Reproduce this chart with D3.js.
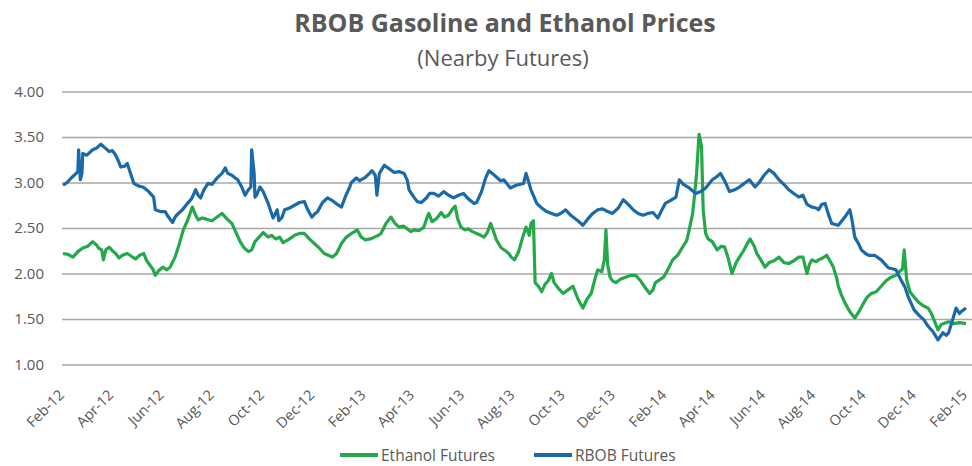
<!DOCTYPE html>
<html>
<head>
<meta charset="utf-8">
<script src="https://cdn.jsdelivr.net/npm/d3@7"></script>
<style>
  body { margin: 0; background: #fff; }
  text { font-family: "Open Sans", sans-serif; fill: #595959; }
</style>
</head>
<body>
<svg id="chart" width="972" height="466"></svg>
<script>
// series (nearby futures, $/gal)
const rbobDates = ["2012-02-01","2012-02-06","2012-02-11","2012-02-17","2012-02-19","2012-02-20","2012-02-22","2012-02-24","2012-02-25","2012-03-01","2012-03-08","2012-03-13","2012-03-18","2012-03-23","2012-03-28","2012-04-01","2012-04-05","2012-04-09","2012-04-11","2012-04-16","2012-04-19","2012-04-23","2012-04-27","2012-05-03","2012-05-08","2012-05-15","2012-05-21","2012-05-23","2012-05-29","2012-06-04","2012-06-08","2012-06-13","2012-06-16","2012-06-20","2012-06-25","2012-07-01","2012-07-06","2012-07-11","2012-07-14","2012-07-17","2012-07-21","2012-07-26","2012-07-31","2012-08-06","2012-08-12","2012-08-16","2012-08-19","2012-08-24","2012-08-28","2012-08-31","2012-09-05","2012-09-09","2012-09-13","2012-09-16","2012-09-17","2012-09-20","2012-09-21","2012-09-23","2012-09-27","2012-10-01","2012-10-07","2012-10-13","2012-10-18","2012-10-20","2012-10-24","2012-10-27","2012-11-02","2012-11-08","2012-11-14","2012-11-20","2012-11-24","2012-11-29","2012-12-02","2012-12-06","2012-12-12","2012-12-18","2012-12-24","2012-12-30","2013-01-04","2013-01-09","2013-01-14","2013-01-16","2013-01-22","2013-01-26","2013-02-01","2013-02-07","2013-02-10","2013-02-14","2013-02-16","2013-02-19","2013-02-25","2013-03-03","2013-03-09","2013-03-15","2013-03-21","2013-03-25","2013-03-27","2013-04-01","2013-04-06","2013-04-11","2013-04-17","2013-04-21","2013-04-26","2013-05-02","2013-05-08","2013-05-14","2013-05-20","2013-05-26","2013-06-01","2013-06-07","2013-06-14","2013-06-17","2013-06-23","2013-06-28","2013-07-02","2013-07-06","2013-07-11","2013-07-16","2013-07-20","2013-07-28","2013-08-04","2013-08-13","2013-08-16","2013-08-22","2013-08-29","2013-09-04","2013-09-10","2013-09-16","2013-09-22","2013-09-27","2013-10-03","2013-10-07","2013-10-12","2013-10-18","2013-10-24","2013-10-30","2013-11-05","2013-11-11","2013-11-17","2013-11-23","2013-11-29","2013-12-06","2013-12-12","2013-12-18","2013-12-24","2013-12-30","2014-01-05","2014-01-11","2014-01-17","2014-01-23","2014-01-28","2014-02-01","2014-02-07","2014-02-14","2014-02-18","2014-02-23","2014-03-02","2014-03-10","2014-03-16","2014-03-22","2014-03-30","2014-04-04","2014-04-09","2014-04-14","2014-04-20","2014-04-26","2014-05-02","2014-05-08","2014-05-14","2014-05-21","2014-05-26","2014-06-01","2014-06-07","2014-06-13","2014-06-19","2014-06-25","2014-07-01","2014-07-07","2014-07-13","2014-07-18","2014-07-23","2014-07-29","2014-08-03","2014-08-06","2014-08-10","2014-08-14","2014-08-18","2014-08-22","2014-08-30","2014-09-07","2014-09-10","2014-09-13","2014-09-15","2014-09-19","2014-09-24","2014-09-27","2014-10-02","2014-10-06","2014-10-13","2014-10-21","2014-10-26","2014-10-30","2014-11-05","2014-11-08","2014-11-14","2014-11-19","2014-11-23","2014-11-30","2014-12-06","2014-12-12","2014-12-17","2014-12-23","2014-12-29","2015-01-04","2015-01-08","2015-01-11","2015-01-16","2015-01-20","2015-01-24","2015-01-26","2015-02-01"]
const rbobValues = [2.97,3.00,3.05,3.10,3.12,3.36,3.03,3.10,3.32,3.30,3.36,3.38,3.42,3.38,3.34,3.35,3.30,3.22,3.17,3.18,3.21,3.10,2.99,2.96,2.95,2.90,2.84,2.70,2.68,2.68,2.62,2.56,2.62,2.66,2.70,2.77,2.82,2.92,2.86,2.83,2.92,2.99,2.98,3.05,3.10,3.16,3.10,3.08,3.05,3.03,2.95,2.86,2.92,2.95,3.36,3.10,2.84,2.86,2.95,2.90,2.77,2.61,2.70,2.58,2.62,2.70,2.72,2.75,2.78,2.79,2.70,2.62,2.65,2.68,2.78,2.83,2.80,2.76,2.73,2.85,2.95,3.00,3.05,3.02,3.05,3.10,3.13,3.08,2.86,3.10,3.19,3.15,3.11,3.12,3.10,3.02,2.92,2.85,2.79,2.78,2.83,2.88,2.88,2.85,2.90,2.86,2.83,2.86,2.88,2.82,2.77,2.78,2.90,3.05,3.13,3.10,3.06,3.02,3.03,2.94,2.97,2.99,3.10,2.92,2.77,2.72,2.68,2.66,2.64,2.66,2.70,2.66,2.62,2.58,2.53,2.60,2.66,2.70,2.71,2.68,2.66,2.72,2.81,2.76,2.70,2.66,2.64,2.66,2.67,2.61,2.70,2.77,2.80,2.84,3.03,2.98,2.94,2.88,2.90,2.94,3.03,3.06,3.10,3.02,2.90,2.92,2.95,2.99,3.03,2.95,3.00,3.08,3.14,3.10,3.03,2.98,2.92,2.88,2.84,2.86,2.76,2.73,2.72,2.70,2.76,2.77,2.65,2.55,2.53,2.62,2.66,2.70,2.62,2.40,2.32,2.26,2.22,2.20,2.20,2.15,2.10,2.06,2.05,2.04,1.93,1.85,1.74,1.60,1.54,1.49,1.42,1.36,1.27,1.35,1.32,1.35,1.50,1.62,1.56,1.58,1.62]

const ethDates = ["2012-02-01","2012-02-07","2012-02-13","2012-02-19","2012-02-25","2012-03-02","2012-03-08","2012-03-13","2012-03-15","2012-03-19","2012-03-21","2012-03-24","2012-03-28","2012-04-01","2012-04-05","2012-04-09","2012-04-13","2012-04-19","2012-04-24","2012-04-29","2012-05-04","2012-05-09","2012-05-12","2012-05-15","2012-05-20","2012-05-23","2012-05-27","2012-06-01","2012-06-06","2012-06-10","2012-06-16","2012-06-21","2012-06-26","2012-07-01","2012-07-05","2012-07-07","2012-07-11","2012-07-14","2012-07-19","2012-07-23","2012-07-26","2012-07-31","2012-08-06","2012-08-12","2012-08-18","2012-08-24","2012-08-29","2012-09-03","2012-09-08","2012-09-13","2012-09-17","2012-09-21","2012-09-26","2012-10-01","2012-10-07","2012-10-11","2012-10-16","2012-10-21","2012-10-25","2012-10-31","2012-11-05","2012-11-08","2012-11-14","2012-11-20","2012-11-26","2012-12-02","2012-12-08","2012-12-14","2012-12-19","2012-12-24","2012-12-29","2013-01-04","2013-01-10","2013-01-16","2013-01-20","2013-01-23","2013-01-28","2013-02-02","2013-02-08","2013-02-13","2013-02-18","2013-02-21","2013-02-27","2013-03-05","2013-03-10","2013-03-15","2013-03-20","2013-03-25","2013-03-29","2013-04-02","2013-04-08","2013-04-14","2013-04-18","2013-04-20","2013-04-24","2013-04-29","2013-05-05","2013-05-09","2013-05-14","2013-05-18","2013-05-22","2013-05-25","2013-05-29","2013-06-03","2013-06-07","2013-06-12","2013-06-17","2013-06-22","2013-06-26","2013-06-30","2013-07-04","2013-07-08","2013-07-11","2013-07-17","2013-07-22","2013-07-26","2013-07-29","2013-08-02","2013-08-07","2013-08-12","2013-08-16","2013-08-20","2013-08-22","2013-08-25","2013-08-27","2013-08-31","2013-09-04","2013-09-08","2013-09-12","2013-09-16","2013-09-19","2013-09-24","2013-09-30","2013-10-06","2013-10-12","2013-10-18","2013-10-24","2013-10-29","2013-11-03","2013-11-08","2013-11-11","2013-11-16","2013-11-19","2013-11-21","2013-11-23","2013-11-26","2013-11-29","2013-12-03","2013-12-09","2013-12-15","2013-12-21","2013-12-27","2014-01-02","2014-01-08","2014-01-13","2014-01-17","2014-01-20","2014-01-25","2014-01-30","2014-02-04","2014-02-10","2014-02-16","2014-02-22","2014-02-27","2014-03-02","2014-03-06","2014-03-08","2014-03-11","2014-03-14","2014-03-17","2014-03-19","2014-03-22","2014-03-25","2014-03-30","2014-04-05","2014-04-10","2014-04-14","2014-04-18","2014-04-23","2014-04-28","2014-05-02","2014-05-07","2014-05-11","2014-05-15","2014-05-20","2014-05-23","2014-05-28","2014-06-02","2014-06-07","2014-06-13","2014-06-19","2014-06-25","2014-07-01","2014-07-07","2014-07-13","2014-07-18","2014-07-23","2014-07-26","2014-07-29","2014-08-03","2014-08-06","2014-08-11","2014-08-16","2014-08-21","2014-08-24","2014-08-28","2014-08-30","2014-09-03","2014-09-07","2014-09-13","2014-09-19","2014-09-24","2014-09-30","2014-10-04","2014-10-09","2014-10-15","2014-10-21","2014-10-27","2014-11-02","2014-11-08","2014-11-12","2014-11-16","2014-11-18","2014-11-21","2014-11-25","2014-11-30","2014-12-06","2014-12-12","2014-12-17","2014-12-21","2014-12-26","2014-12-29","2015-01-02","2015-01-05","2015-01-11","2015-01-17","2015-01-24","2015-02-01"]
const ethValues = [2.22,2.21,2.18,2.24,2.28,2.30,2.35,2.31,2.28,2.26,2.15,2.26,2.29,2.25,2.22,2.17,2.20,2.22,2.19,2.16,2.20,2.22,2.15,2.11,2.05,1.98,2.03,2.07,2.04,2.07,2.18,2.32,2.48,2.58,2.68,2.73,2.64,2.59,2.61,2.60,2.59,2.58,2.62,2.66,2.60,2.55,2.45,2.35,2.28,2.24,2.26,2.35,2.40,2.45,2.40,2.42,2.38,2.40,2.34,2.37,2.40,2.42,2.44,2.44,2.38,2.33,2.28,2.22,2.20,2.18,2.22,2.33,2.40,2.44,2.46,2.48,2.40,2.37,2.38,2.40,2.42,2.44,2.55,2.62,2.55,2.51,2.52,2.49,2.46,2.48,2.47,2.51,2.62,2.66,2.57,2.60,2.67,2.62,2.64,2.70,2.74,2.60,2.51,2.48,2.49,2.46,2.44,2.42,2.40,2.45,2.55,2.45,2.37,2.28,2.25,2.22,2.18,2.15,2.24,2.40,2.51,2.42,2.55,2.58,1.90,1.86,1.80,1.88,1.92,2.00,1.90,1.84,1.78,1.82,1.86,1.72,1.62,1.72,1.78,1.95,2.04,2.02,2.15,2.48,2.10,1.96,1.92,1.90,1.94,1.96,1.98,1.98,1.92,1.84,1.78,1.82,1.90,1.93,1.96,2.04,2.15,2.20,2.29,2.36,2.48,2.65,2.81,3.10,3.53,3.40,2.70,2.44,2.38,2.35,2.26,2.30,2.29,2.18,2.00,2.12,2.18,2.25,2.32,2.38,2.30,2.22,2.15,2.07,2.12,2.14,2.18,2.12,2.11,2.14,2.18,2.18,2.00,2.10,2.15,2.13,2.15,2.17,2.20,2.12,2.07,1.95,1.86,1.76,1.68,1.58,1.51,1.58,1.68,1.74,1.78,1.80,1.86,1.92,1.96,1.98,2.02,2.05,2.26,1.93,1.80,1.74,1.68,1.64,1.62,1.56,1.45,1.38,1.44,1.45,1.47,1.45,1.46,1.45]

const yTicks = [1.00, 1.50, 2.00, 2.50, 3.00, 3.50, 4.00]
const seriesNames = ["Ethanol Futures", "RBOB Futures"]
const seriesColors = ["#23a84a", "#1a69a8"]

const parse = d3.timeParse("%Y-%m-%d")
const eth = ethDates.map((d, i) => ({ date: parse(d), value: ethValues[i] }))
const rbob = rbobDates.map((d, i) => ({ date: parse(d), value: rbobValues[i] }))

const svg = d3.select("#chart")

const x = d3.scaleTime()
    .domain([parse("2012-02-01"), parse("2015-02-01")])
    .range([63, 966])
const y = d3.scaleLinear()
    .domain([1, 4])
    .range([364.5, 91.5])

// title
svg.append("text")
    .attr("x", 505).attr("y", 32)
    .attr("text-anchor", "middle")
    .style("font-size", "25px").style("font-weight", "bold")
    .text("RBOB Gasoline and Ethanol Prices")
svg.append("text")
    .attr("x", 503).attr("y", 66)
    .attr("text-anchor", "middle")
    .style("font-size", "22px")
    .text("(Nearby Futures)")

// gridlines + y labels
const yAxis = d3.axisLeft(y).tickValues(yTicks).tickFormat(d3.format(".2f"))
    .tickSize(-910).tickPadding(18)
svg.append("g")
    .attr("transform", "translate(62,0)")
    .call(yAxis)
    .call(g => g.select(".domain").remove())
    .call(g => g.selectAll("line").attr("stroke", "#a8a8a8").attr("stroke-width", 1.3))
    .call(g => g.selectAll("text").style("font-size", "15px").attr("fill", "#595959"))

// x labels, every 2 months starting Feb-12
const xTicks = d3.timeMonth.range(parse("2012-02-01"), parse("2015-02-02"), 2)
const fmt = d3.timeFormat("%b-%y")
svg.append("g")
    .selectAll("text")
    .data(xTicks)
    .join("text")
    .attr("text-anchor", "end")
    .attr("transform", d => `translate(${x(d) + 2},${396}) rotate(-45)`)
    .style("font-size", "14.5px")
    .text(d => fmt(d))

// lines
const line = d3.line().x(d => x(d.date)).y(d => y(d.value))
svg.append("path")
    .datum(eth)
    .attr("fill", "none")
    .attr("stroke", seriesColors[0])
    .attr("stroke-width", 3.2)
    .attr("stroke-linejoin", "round")
    .attr("d", line)
svg.append("path")
    .datum(rbob)
    .attr("fill", "none")
    .attr("stroke", seriesColors[1])
    .attr("stroke-width", 3.2)
    .attr("stroke-linejoin", "round")
    .attr("d", line)

// legend
const legendX = [340, 534]
const legend = svg.append("g")
    .selectAll("g")
    .data(seriesNames)
    .join("g")
    .attr("transform", (d, i) => `translate(${legendX[i]},455)`)
legend.append("line")
    .attr("x1", 0).attr("x2", 38)
    .attr("stroke", (d, i) => seriesColors[i])
    .attr("stroke-width", 4)
legend.append("text")
    .attr("x", 41).attr("y", 5.5)
    .style("font-size", "15.5px")
    .text(d => d)
</script>
</body>
</html>
